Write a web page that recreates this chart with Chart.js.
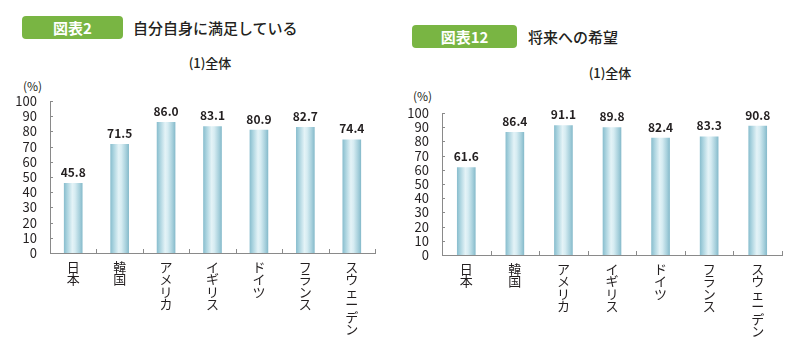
<!DOCTYPE html>
<html>
<head>
<meta charset="utf-8">
<script src="https://cdn.jsdelivr.net/npm/chart.js@4"></script>
<style>
  body { margin: 0; width: 800px; height: 337px; background: #fff; overflow: hidden;
         font-family: "Noto Sans CJK JP", "Noto Sans", sans-serif; color: #231f20; }
  .box { position: absolute; background: #79b543; color: #fff; border-radius: 4px;
         font-size: 15px; font-weight: bold; text-align: center; line-height: 23px; height: 23px; }
  .ttl { position: absolute; font-size: 15px; font-weight: 500; line-height: 23px; }
  .sub { position: absolute; font-size: 13px; font-weight: 500; width: 100px; text-align: center; }
  .unit { position: absolute; font-size: 12px; }
  .wrap { position: absolute; width: 400px; height: 257px; top: 80px; }
</style>
</head>
<body>
<div class="box" style="left:22px;top:16px;width:101px;">図表2</div>
<div class="ttl" style="left:133px;top:16px;">自分自身に満足している</div>
<div class="sub" style="left:160px;top:53px;">(1)全体</div>
<div class="unit" style="left:23px;top:77px;">(%)</div>

<div class="box" style="left:412px;top:25px;width:105px;">図表12</div>
<div class="ttl" style="left:528px;top:25px;">将来への希望</div>
<div class="sub" style="left:560px;top:63px;">(1)全体</div>
<div class="unit" style="left:413px;top:87px;">(%)</div>

<div class="wrap" style="left:0;"><canvas id="chart1"></canvas></div>
<div class="wrap" style="left:400px;"><canvas id="chart2"></canvas></div>

<script>
var countries = ['日本', '韓国', 'アメリカ', 'イギリス', 'ドイツ', 'フランス', 'スウェーデン'];
var satisfied = [45.8, 71.5, 86.0, 83.1, 80.9, 82.7, 74.4];
var hope = [61.6, 86.4, 91.1, 89.8, 82.4, 83.3, 90.8];
var yTicks = [0, 10, 20, 30, 40, 50, 60, 70, 80, 90, 100];

var axisColor = '#8a8a8a';
var textColor = '#231f20';

function barFill(context) {
    var chart = context.chart;
    var x = chart.scales && chart.scales.x;
    if (!chart.chartArea || !x) return '#bfe0ea';
    var cx = x.getPixelForValue(context.dataIndex);
    var g = chart.ctx.createLinearGradient(cx - 9, 0, cx + 9, 0);
    g.addColorStop(0, '#8bbfcf');
    g.addColorStop(0.15, '#a8d2de');
    g.addColorStop(0.45, '#e4f3f7');
    g.addColorStop(0.6, '#d6ecf2');
    g.addColorStop(0.85, '#a7d0dc');
    g.addColorStop(1, '#88bccc');
    return g;
}

// value labels above bars + short inward ticks
var decor = {
    id: 'decor',
    afterDatasetsDraw: function (chart) {
        var ctx = chart.ctx;
        var meta = chart.getDatasetMeta(0);
        var vals = chart.data.datasets[0].data;
        ctx.save();
        ctx.fillStyle = textColor;
        ctx.font = 'bold 12px "Noto Sans CJK JP", "Noto Sans", sans-serif';
        ctx.textAlign = 'center';
        ctx.textBaseline = 'bottom';
        meta.data.forEach(function (bar, i) {
            ctx.fillText(vals[i].toFixed(1), bar.x, bar.y - 5);
        });
        var x = chart.scales.x, y = chart.scales.y;
        ctx.strokeStyle = axisColor;
        ctx.lineWidth = 1;
        ctx.beginPath();
        yTicks.forEach(function (t) {
            var py = Math.round(y.getPixelForValue(t)) + 0.5;
            ctx.moveTo(x.left, py);
            ctx.lineTo(x.left + 3, py);
        });
        var n = countries.length;
        for (var i = 1; i <= n; i++) {
            var px = Math.round(x.left + i * (x.right - x.left) / n) + 0.5;
            ctx.moveTo(px, y.bottom);
            ctx.lineTo(px, y.bottom - 4);
        }
        ctx.stroke();
        ctx.restore();
    }
};

function makeChart(id, values, yWidth, padTop, padRight, xHeight) {
    var ctx = document.getElementById(id).getContext('2d');
    return new Chart(ctx, {
        type: 'bar',
        data: {
            labels: countries,
            datasets: [{
                data: values,
                backgroundColor: barFill,
                borderWidth: 0,
                barThickness: 18
            }]
        },
        options: {
            responsive: true,
            maintainAspectRatio: false,
            animation: false,
            layout: { padding: { top: padTop, right: padRight, left: 0, bottom: 0 } },
            plugins: { legend: { display: false }, tooltip: { enabled: false } },
            scales: {
                x: {
                    grid: { display: false },
                    border: { display: true, color: axisColor, width: 1 },
                    afterFit: function (s) { s.height = xHeight; },
                    ticks: {
                        color: textColor,
                        maxRotation: 0,
                        autoSkip: false,
                        padding: 0,
                        font: { size: 13, family: '"Noto Sans CJK JP", sans-serif', lineHeight: 0.95 },
                        callback: function (value) {
                            return this.getLabelForValue(value).split('');
                        }
                    }
                },
                y: {
                    min: 0,
                    max: 100,
                    grid: { display: false },
                    border: { display: true, color: axisColor, width: 1 },
                    afterFit: function (s) { s.width = yWidth; },
                    afterBuildTicks: function (s) {
                        s.ticks = yTicks.map(function (v) { return { value: v }; });
                    },
                    ticks: {
                        color: textColor,
                        autoSkip: false,
                        padding: 5,
                        font: { size: 13, family: '"Noto Sans CJK JP", sans-serif', lineHeight: 1 }
                    }
                }
            }
        },
        plugins: [decor]
    });
}

makeChart('chart1', satisfied, 50, 21, 25, 84);
makeChart('chart2', hope, 42, 33, 18, 82);
</script>
</body>
</html>
